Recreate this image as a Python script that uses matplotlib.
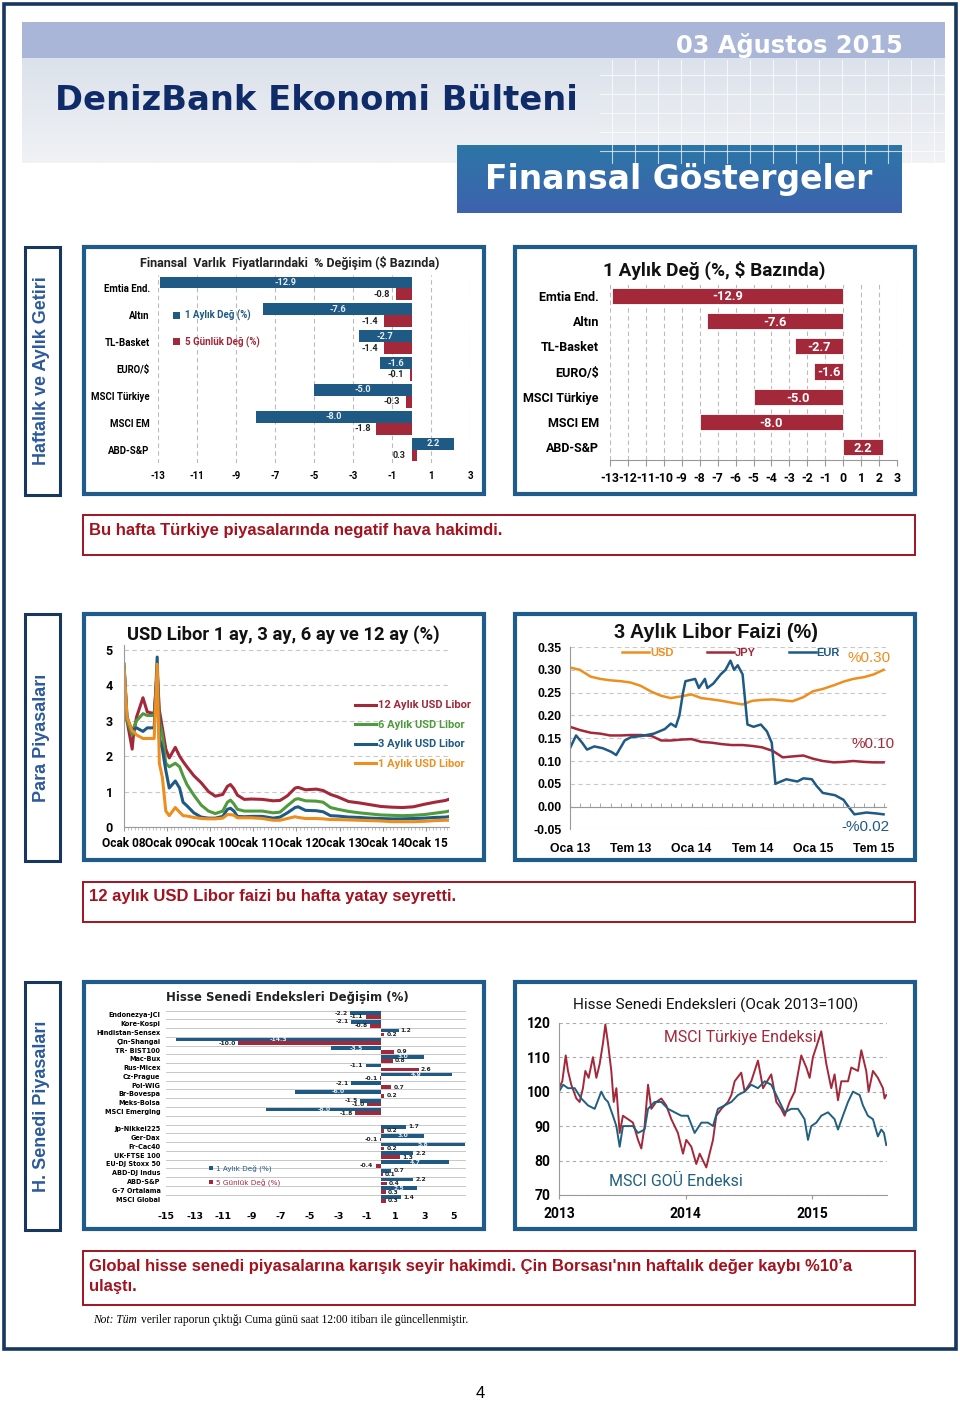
import matplotlib
matplotlib.use("Agg")
import matplotlib.pyplot as plt
import numpy as np
from matplotlib.colors import to_rgb
from matplotlib.patches import Rectangle

plt.rcParams["axes.unicode_minus"] = False

W, H = 960, 1403

# ---- Finansal varlıklar (üst grafikler) ----
assets = ["Emtia End.", "Altın", "TL-Basket", "EURO/$", "MSCI Türkiye", "MSCI EM", "ABD-S&P"]
asset_1m = [-12.9, -7.6, -2.7, -1.6, -5.0, -8.0, 2.2]
asset_5d = [-0.8, -1.4, -1.4, -0.1, -0.3, -1.8, 0.3]

# ---- USD Libor (ondalık yıl) ----
libor_t = [2008.00, 2008.07, 2008.19, 2008.22, 2008.29, 2008.44, 2008.54, 2008.70, 2008.77, 2008.82,
           2008.89, 2008.97, 2009.05, 2009.19, 2009.29, 2009.37, 2009.46, 2009.62, 2009.79, 2009.96,
           2010.12, 2010.29, 2010.40, 2010.47, 2010.55, 2010.63, 2010.79, 2010.96, 2011.21, 2011.46,
           2011.62, 2011.79, 2011.97, 2012.04, 2012.21, 2012.46, 2012.62, 2012.79, 2012.96, 2013.21,
           2013.46, 2013.71, 2013.96, 2014.21, 2014.46, 2014.71, 2014.96, 2015.21, 2015.46, 2015.58]
libor_12m = [4.5, 3.0, 2.2, 2.6, 3.1, 3.65, 3.25, 3.2, 4.4, 3.3,
             2.8, 2.2, 1.95, 2.25, 2.0, 1.85, 1.7, 1.45, 1.25, 1.0,
             0.87, 0.92, 1.15, 1.2, 1.08, 0.9, 0.78, 0.79, 0.78, 0.74,
             0.75, 0.88, 1.1, 1.12, 1.05, 1.07, 1.03, 0.92, 0.85, 0.72,
             0.68, 0.63, 0.58, 0.56, 0.55, 0.57, 0.64, 0.70, 0.75, 0.80]
libor_6m = [4.5, 3.0, 2.6, 2.8, 3.0, 3.2, 3.15, 3.15, 4.3, 3.0,
            2.6, 1.8, 1.7, 1.8, 1.7, 1.45, 1.2, 0.9, 0.62, 0.45,
            0.38, 0.45, 0.7, 0.76, 0.65, 0.5, 0.45, 0.45, 0.45, 0.40,
            0.42, 0.6, 0.78, 0.80, 0.74, 0.73, 0.70, 0.55, 0.50, 0.44,
            0.40, 0.37, 0.34, 0.33, 0.32, 0.33, 0.35, 0.39, 0.43, 0.46]
libor_3m = [4.6, 3.1, 2.7, 2.75, 2.8, 2.7, 2.8, 2.8, 4.8, 2.5,
            2.2, 1.6, 1.1, 1.3, 1.1, 0.7, 0.6, 0.4, 0.28, 0.25,
            0.25, 0.3, 0.5, 0.53, 0.45, 0.3, 0.29, 0.30, 0.30, 0.25,
            0.28, 0.40, 0.55, 0.57, 0.47, 0.46, 0.43, 0.32, 0.31, 0.28,
            0.27, 0.25, 0.24, 0.23, 0.23, 0.24, 0.25, 0.27, 0.28, 0.30]
libor_1m = [4.6, 3.1, 2.7, 2.7, 2.6, 2.5, 2.5, 2.5, 4.6, 1.8,
            1.4, 0.45, 0.32, 0.55, 0.42, 0.32, 0.31, 0.27, 0.24, 0.23,
            0.23, 0.25, 0.35, 0.35, 0.33, 0.26, 0.26, 0.26, 0.24, 0.19,
            0.19, 0.24, 0.29, 0.27, 0.24, 0.24, 0.23, 0.21, 0.21, 0.20,
            0.19, 0.18, 0.17, 0.15, 0.15, 0.15, 0.16, 0.18, 0.19, 0.19]
libor_years = ["08", "09", "10", "11", "12", "13", "14", "15"]

# ---- 3 aylık Libor ----
l3_t = [2013.00, 2013.08, 2013.17, 2013.25, 2013.33, 2013.42, 2013.50, 2013.58, 2013.67, 2013.75, 2013.83, 2013.92,
        2014.00, 2014.08, 2014.17, 2014.25, 2014.33, 2014.42, 2014.50, 2014.58, 2014.67, 2014.75, 2014.83, 2014.92,
        2015.00, 2015.08, 2015.17, 2015.25, 2015.33, 2015.42, 2015.50, 2015.58]
l3_usd = [0.305, 0.300, 0.285, 0.280, 0.277, 0.275, 0.272, 0.265, 0.252, 0.243, 0.238, 0.242,
          0.246, 0.238, 0.235, 0.232, 0.228, 0.224, 0.232, 0.234, 0.235, 0.233, 0.231, 0.240,
          0.253, 0.258, 0.266, 0.274, 0.280, 0.284, 0.290, 0.300]
l3_jpy = [0.175, 0.168, 0.162, 0.160, 0.156, 0.156, 0.157, 0.157, 0.155, 0.145, 0.145, 0.147,
          0.148, 0.142, 0.140, 0.137, 0.135, 0.135, 0.133, 0.130, 0.122, 0.108, 0.110, 0.112,
          0.105, 0.100, 0.097, 0.098, 0.100, 0.098, 0.097, 0.097]
eur_t = [2013.00, 2013.05, 2013.10, 2013.14, 2013.20, 2013.27, 2013.34, 2013.38, 2013.45, 2013.50,
         2013.59, 2013.69, 2013.78, 2013.83, 2013.87, 2013.90, 2013.93, 2013.95, 2014.03, 2014.06,
         2014.11, 2014.13, 2014.18, 2014.24, 2014.28, 2014.32, 2014.35, 2014.38, 2014.42, 2014.46,
         2014.51, 2014.57, 2014.62, 2014.66, 2014.69, 2014.78, 2014.87, 2014.92, 2014.99, 2015.03,
         2015.08, 2015.18, 2015.25, 2015.29, 2015.34, 2015.44, 2015.52, 2015.58]
l3_eur = [0.128, 0.156, 0.140, 0.125, 0.132, 0.128, 0.120, 0.113, 0.145, 0.152,
          0.155, 0.160, 0.170, 0.182, 0.175, 0.200, 0.250, 0.275, 0.280, 0.260,
          0.280, 0.260, 0.270, 0.290, 0.300, 0.320, 0.300, 0.310, 0.290, 0.180,
          0.175, 0.180, 0.165, 0.140, 0.050, 0.060, 0.055, 0.062, 0.060, 0.045,
          0.030, 0.025, 0.015, 0.000, -0.017, -0.013, -0.015, -0.017]
l3_ticks = ["Oca 13", "Tem 13", "Oca 14", "Tem 14", "Oca 15", "Tem 15"]

# ---- Hisse senedi endeksleri değişim ----
em_names = ["Endonezya-JCI", "Kore-Kospi", "Hindistan-Sensex", "Çin-Shangai", "TR- BIST100", "Mac-Bux",
            "Rus-Micex", "Cz-Prague", "Pol-WIG", "Br-Bovespa", "Meks-Bolsa", "MSCI Emerging"]
em_1m = [-2.2, -2.1, 1.2, -14.3, -3.5, 3.0, -1.1, 4.9, -2.1, -6.0, -1.5, -8.0]
em_5d = [-1.1, -0.8, 0.2, -10.0, 0.9, 0.8, 2.6, -0.1, 0.7, 0.2, -1.0, -1.8]
dm_names = ["Jp-Nikkei225", "Ger-Dax", "Fr-Cac40", "UK-FTSE 100", "EU-DJ Stoxx 50", "ABD-DJ Indus",
            "ABD-S&P", "G-7 Ortalama", "MSCI Global"]
dm_1m = [1.7, 3.0, 5.8, 2.2, 4.7, 0.7, 2.2, 2.5, 1.4]
dm_5d = [0.2, -0.1, 0.2, 1.3, -0.4, 0.1, 0.4, 0.3, 0.3]

# ---- MSCI endeksleri (Ocak 2013=100) ----
tr_t = [2013.000, 2013.026, 2013.053, 2013.071, 2013.097, 2013.137, 2013.163, 2013.189, 2013.208, 2013.234,
        2013.268, 2013.295, 2013.321, 2013.347, 2013.366, 2013.387, 2013.413, 2013.432, 2013.453, 2013.479,
        2013.505, 2013.545, 2013.584, 2013.624, 2013.650, 2013.676, 2013.703, 2013.729, 2013.768, 2013.808,
        2013.847, 2013.887, 2013.939, 2013.979, 2014.005, 2014.045, 2014.084, 2014.111, 2014.137, 2014.163,
        2014.189, 2014.216, 2014.242, 2014.282, 2014.334, 2014.361, 2014.387, 2014.439, 2014.466, 2014.518,
        2014.571, 2014.611, 2014.676, 2014.716, 2014.755, 2014.782, 2014.821, 2014.861, 2014.913, 2014.953,
        2014.979, 2015.005, 2015.032, 2015.071, 2015.111, 2015.150, 2015.176, 2015.203, 2015.229, 2015.282,
        2015.308, 2015.361, 2015.387, 2015.426, 2015.445, 2015.479, 2015.518, 2015.558, 2015.571, 2015.584]
tr_val = [101, 103, 110.5, 106, 102, 98, 97, 101, 106, 104,
          110, 104, 108, 114, 119.5, 114, 106, 97, 101, 88,
          93, 92, 91, 86, 83.5, 90, 102, 95, 97, 98,
          96, 92, 88, 82, 86, 84, 79, 82, 80, 78,
          82, 86, 93, 95, 97, 99, 103, 105.5, 100, 103,
          109, 101, 105, 97, 95, 93, 97, 100, 110.5, 107,
          104, 110, 113, 117.5, 108, 101, 105, 97.5, 103, 103,
          107, 106, 112, 106, 100, 106, 104, 101, 98, 99]
gou_t = [2013.000, 2013.032, 2013.071, 2013.124, 2013.176, 2013.229, 2013.282, 2013.334, 2013.361, 2013.387,
         2013.426, 2013.453, 2013.479, 2013.505, 2013.545, 2013.584, 2013.624, 2013.676, 2013.703, 2013.755,
         2013.808, 2013.861, 2013.913, 2013.966, 2014.018, 2014.071, 2014.124, 2014.176, 2014.216, 2014.255,
         2014.308, 2014.361, 2014.413, 2014.466, 2014.518, 2014.571, 2014.624, 2014.676, 2014.729, 2014.782,
         2014.834, 2014.887, 2014.939, 2014.966, 2014.992, 2015.032, 2015.071, 2015.124, 2015.176, 2015.203,
         2015.242, 2015.282, 2015.321, 2015.374, 2015.400, 2015.439, 2015.479, 2015.518, 2015.545, 2015.566,
         2015.584]
gou_val = [100, 102, 101, 101, 98, 96, 95, 100, 98, 97,
           93, 90, 84, 90, 90, 90, 88, 89, 95, 97,
           97, 95, 94, 93, 93, 88, 91, 91, 90, 95,
           96, 97, 99, 100, 102, 101, 103, 102, 98, 94,
           95, 95, 92, 86, 90, 91, 93, 94, 92, 89,
           93, 97, 100, 99, 96, 93, 92, 87, 89, 88,
           84.5]

# ---- renkler / fontlar ----
NAVY = "#17375E"
FRAME = "#1F5C8B"
BLUE = "#1F5A84"
RED = "#A3283A"
ORANGE = "#EE8E1F"
GREEN = "#4F9A3C"
CAPTION = "#A3121F"
CAL = ["Roboto", "DejaVu Sans"]
ARIAL = ["Liberation Sans", "DejaVu Sans"]
VERD = ["DejaVu Sans"]
SERIF = ["Liberation Serif", "DejaVu Serif"]

fig = plt.figure(figsize=(W / 100, H / 100), dpi=100)
bg = fig.add_axes([0, 0, 1, 1])
bg.axis("off")


def place(x0, y0, x1, y1):
    ax = fig.add_axes([x0 / W, 1 - y1 / H, (x1 - x0) / W, (y1 - y0) / H])
    ax.set_facecolor("none")
    return ax


def rect(x0, y0, x1, y1, edge, lw, fill="none", z=2):
    bg.add_patch(Rectangle((x0, y0), x1 - x0, y1 - y0, facecolor=fill, edgecolor=edge, linewidth=lw, zorder=z))


def gradient(x0, y0, x1, y1, top, bottom):
    c0, c1 = np.array(to_rgb(top)), np.array(to_rgb(bottom))
    f = np.linspace(0, 1, 64)[:, None, None]
    bg.imshow(c0 + (c1 - c0) * f, extent=(x0, x1, y1, y0), aspect="auto", origin="upper",
              interpolation="bilinear", zorder=1)


def bold_ticks(ax, family):
    for t in ax.get_xticklabels() + ax.get_yticklabels():
        t.set_family(family)
        t.set_fontweight("bold")


# ---- sayfa başlığı ----
gradient(22, 58, 945, 163, "#DCE2EB", "#F0F2F5")
rect(22, 22, 945, 58, "none", 0, fill="#A9B6D7", z=1)
for gx in range(612, 945, 23):
    bg.plot([gx, gx], [60, 163], color="white", lw=0.8, alpha=0.7, zorder=1.5)
for gy in range(75, 163, 19):
    bg.plot([600, 945], [gy, gy], color="white", lw=0.8, alpha=0.7, zorder=1.5)
gradient(457, 145, 902, 213, "#2C76A6", "#3E63AF")
bg.text(903, 46, "03 Ağustos 2015", color="white", fontsize=17.4, fontweight="bold", family=VERD,
        ha="right", va="center", zorder=3)
bg.text(55, 101, "DenizBank Ekonomi Bülteni", color="#0F2C69", fontsize=24.3, fontweight="bold",
        family=VERD, ha="left", va="center", zorder=3)
bg.text(679, 180, "Finansal Göstergeler", color="white", fontsize=23.8, fontweight="bold",
        family=VERD, ha="center", va="center", zorder=3)

rect(4, 4, 956, 1349, NAVY, 2.6, z=5)

# ---- yan etiketler ----
side = [("Haftalık ve Aylık Getiri", 247, 495), ("Para Piyasaları", 614, 861),
        ("H. Senedi Piyasaları", 982, 1230)]
for label, y0, y1 in side:
    rect(25, y0, 60, y1, NAVY, 2.2)
    bg.text(42, (y0 + y1) / 2, label, rotation=90, color="#2D5A9B", fontsize=13,
            fontweight="bold", family=ARIAL, ha="center", va="center")

# ---- grafik çerçeveleri ----
for x0, x1 in [(84, 484), (515, 915)]:
    for y0, y1 in [(247, 494), (614, 860), (982, 1229)]:
        rect(x0, y0, x1, y1, FRAME, 3, fill="white")

# ---- açıklama kutuları ----
rect(83, 515, 915, 555, CAPTION, 1.4)
bg.text(89, 530, "Bu hafta Türkiye piyasalarında negatif hava hakimdi.", color=CAPTION,
        fontsize=12, fontweight="bold", family=ARIAL, va="center")
rect(83, 882, 915, 922, CAPTION, 1.4)
bg.text(89, 897, "12 aylık USD Libor faizi bu hafta yatay seyretti.", color=CAPTION,
        fontsize=12, fontweight="bold", family=ARIAL, va="center")
rect(83, 1251, 915, 1305, CAPTION, 1.4)
bg.text(89, 1266, "Global hisse senedi piyasalarına karışık seyir hakimdi. Çin Borsası'nın haftalık değer kaybı %10’a",
        color=CAPTION, fontsize=12, fontweight="bold", family=ARIAL, va="center")
bg.text(89, 1286, "ulaştı.", color=CAPTION, fontsize=12, fontweight="bold", family=ARIAL, va="center")
bg.text(93, 1320, "Not: Tüm", fontsize=8.3, style="italic", family=SERIF, va="center")
bg.text(141, 1320, "veriler raporun çıktığı Cuma günü saat 12:00 itibarı ile güncellenmiştir.",
        fontsize=8.3, family=SERIF, va="center")
bg.text(480, 1393, "4", fontsize=12, family=ARIAL, ha="center", va="center")

bg.set_xlim(0, W)
bg.set_ylim(H, 0)

# ---- 1: Finansal varlık fiyatları ----
bg.text(290, 263, "Finansal  Varlık  Fiyatlarındaki  % Değişim ($ Bazında)", fontsize=9, fontweight="bold",
        family=CAL, ha="center", va="center", color="#222222")
ax1 = place(158, 275, 470, 463)
pos = np.arange(len(assets))
ax1.barh(pos - 0.22, asset_1m, height=0.44, color=BLUE, label="1 Aylık Değ (%)")
ax1.barh(pos + 0.22, asset_5d, height=0.44, color=RED, label="5 Günlük Değ (%)")
for p, v in zip(pos, asset_1m):
    ax1.text(v / 2, p - 0.22, f"{v:.1f}", color="#E8EEF4", fontsize=6.6, fontweight="bold",
             family=CAL, ha="center", va="center")
for p, v in zip(pos, asset_5d):
    ax1.text(min(v, 0) - 0.3, p + 0.22, f"{v:.1f}", color="#222222", fontsize=6.6, fontweight="bold",
             family=CAL, ha="right", va="center")
ax1.set_xlim(-13, 3)
ax1.set_ylim(len(assets) - 0.5, -0.5)
ax1.set_xticks(range(-13, 4, 2))
ax1.set_yticks(pos, assets)
ax1.grid(axis="x", ls=(0, (4, 3)), color="#BBBBBB", lw=0.8)
ax1.set_axisbelow(True)
ax1.tick_params(length=0, labelsize=6.9, pad=6)
bold_ticks(ax1, CAL)
for s in ax1.spines.values():
    s.set_visible(False)
leg = ax1.legend(loc="upper left", bbox_to_anchor=(0.02, 0.86), frameon=False, handlelength=0.7,
                 handleheight=0.7, labelspacing=1.55, handletextpad=0.5,
                 prop={"family": CAL, "size": 7, "weight": "bold"})
for t, c in zip(leg.get_texts(), [BLUE, RED]):
    t.set_color(c)

# ---- 2: 1 Aylık Değ ----
bg.text(714, 270, "1 Aylık Değ (%, $ Bazında)", fontsize=13.7, fontweight="bold", family=CAL,
        ha="center", va="center", color="#111111")
ax2 = place(610, 283, 897, 460)
ax2.barh(pos, asset_1m, height=0.64, color=RED, edgecolor="white", linewidth=0.6)
for p, v in zip(pos, asset_1m):
    ax2.text(v / 2, p + 0.05, f"{v:.1f}", color="white", fontsize=9.3, fontweight="bold",
             family=CAL, ha="center", va="center")
ax2.set_xlim(-13, 3)
ax2.set_ylim(len(assets) - 0.5, -0.5)
ax2.set_xticks(range(-13, 4))
ax2.set_yticks(pos, assets)
ax2.grid(axis="x", ls=(0, (4, 3)), color="#BBBBBB", lw=0.8)
ax2.set_axisbelow(True)
ax2.tick_params(axis="y", length=0, labelsize=9, pad=8)
ax2.tick_params(axis="x", length=4, color="#999999", labelsize=8.8, pad=5)
bold_ticks(ax2, CAL)
for k in ["left", "right", "top"]:
    ax2.spines[k].set_visible(False)
ax2.spines["bottom"].set_color("#999999")

# ---- 3: USD Libor ----
bg.text(283, 635, "USD Libor 1 ay, 3 ay, 6 ay ve 12 ay (%)", fontsize=13.2, fontweight="bold", family=CAL,
        ha="center", va="center", color="#111111")
ax3 = place(124, 645, 449, 827)
ax3.plot(libor_t, libor_12m, color=RED, lw=2.2, label="12 Aylık USD Libor")
ax3.plot(libor_t, libor_6m, color=GREEN, lw=2.2, label="6 Aylık USD Libor")
ax3.plot(libor_t, libor_3m, color=BLUE, lw=2.2, label="3 Aylık USD Libor")
ax3.plot(libor_t, libor_1m, color=ORANGE, lw=2.2, label="1 Aylık USD Libor")
ax3.set_xlim(2008, 2015.54)
ax3.set_ylim(0, 5.14)
ax3.set_yticks(range(0, 6))
ax3.set_xticks([2008 + i for i in range(len(libor_years))], ["Ocak " + y for y in libor_years])
ax3.set_xticks(np.arange(2008, 2015.55, 1 / 12), minor=True)
ax3.grid(axis="y", ls=(0, (4, 3)), color="#C8C8C8", lw=0.8)
ax3.tick_params(axis="y", length=0, labelsize=9, pad=8)
ax3.tick_params(axis="x", which="major", length=3, color="#999999", labelsize=8.6, pad=4)
ax3.tick_params(axis="x", which="minor", length=2, color="#BBBBBB")
bold_ticks(ax3, CAL)
for k in ["right", "top"]:
    ax3.spines[k].set_visible(False)
ax3.spines["left"].set_color("#999999")
ax3.spines["bottom"].set_color("#999999")
leg = ax3.legend(loc="upper left", bbox_to_anchor=(0.68, 0.75), frameon=False, handlelength=1.9,
                 labelspacing=0.85, handletextpad=0.15, prop={"family": CAL, "size": 8, "weight": "bold"})
for t, c in zip(leg.get_texts(), [RED, GREEN, BLUE, ORANGE]):
    t.set_color(c)

# ---- 4: 3 Aylık Libor Faizi ----
bg.text(716, 633, "3 Aylık Libor Faizi (%)", fontsize=14.3, fontweight="bold", family=ARIAL,
        ha="center", va="center", color="#111111")
ax4 = place(570, 647, 886, 829.4)
ax4.plot(l3_t, l3_usd, color=ORANGE, lw=1.8, label="USD")
ax4.plot(l3_t, l3_jpy, color=RED, lw=1.8, label="JPY")
ax4.plot(eur_t, l3_eur, color=BLUE, lw=1.8, label="EUR")
ax4.set_xlim(2013.0, 2015.6)
ax4.set_ylim(-0.05, 0.35)
yt = np.round(np.arange(-0.05, 0.351, 0.05), 2)
ax4.set_yticks(yt, [f"{v:.2f}" for v in yt])
ax4.set_xticks([2013.0, 2013.5, 2014.0, 2014.5, 2015.0, 2015.5], l3_ticks)
ax4.set_xticks(np.arange(2013.0, 2015.6, 1 / 12), minor=True)
ax4.grid(axis="y", ls=(0, (4, 3)), color="#C8C8C8", lw=0.8)
ax4.spines["bottom"].set_position(("data", 0))
ax4.spines["bottom"].set_color("#999999")
ax4.spines["left"].set_color("#999999")
for k in ["right", "top"]:
    ax4.spines[k].set_visible(False)
ax4.tick_params(axis="x", which="both", direction="in", length=3, color="#999999", labelsize=8.8, pad=26)
ax4.tick_params(axis="y", length=0, labelsize=8.8, pad=6)
bold_ticks(ax4, ARIAL)
leg = ax4.legend(loc="center", bbox_to_anchor=(0.51, 0.965), ncol=3, frameon=False, handlelength=2.4,
                 columnspacing=3.0, handletextpad=0.1, prop={"family": ARIAL, "size": 8, "weight": "bold"})
for t, c in zip(leg.get_texts(), [ORANGE, RED, BLUE]):
    t.set_color(c)
ax4.text(2015.46, l3_usd[-1] + 0.025, f"%{l3_usd[-1]:.2f}", color=ORANGE, fontsize=11, family=ARIAL,
         ha="center", va="center")
ax4.text(2015.49, l3_jpy[-1] + 0.041, f"%{l3_jpy[-1]:.2f}", color=RED, fontsize=11, family=ARIAL,
         ha="center", va="center")
ax4.text(2015.43, l3_eur[-1] - 0.027, f"-%{abs(l3_eur[-1]):.2f}", color=BLUE, fontsize=11, family=ARIAL,
         ha="center", va="center")

# ---- 5: Hisse senedi endeksleri değişim ----
bg.text(287, 997, "Hisse Senedi Endeksleri Değişim (%)", fontsize=8.5, fontweight="bold", family=VERD,
        ha="center", va="center", color="#222222")
ax5 = place(166, 1010.6, 466, 1203.4)
slots = list(range(len(em_names))) + [len(em_names) + 1 + i for i in range(len(dm_names))]
names = em_names + dm_names
v1 = em_1m + dm_1m
v5 = em_5d + dm_5d
sl = np.array(slots)
ax5.barh(sl - 0.22, v1, height=0.42, color=BLUE, label="1 Aylık Değ (%)", zorder=3)
ax5.barh(sl + 0.22, v5, height=0.42, color=RED, label="5 Günlük Değ (%)", zorder=3)
for s, a, b in zip(slots, v1, v5):
    for y, v, c in [(s - 0.22, a, "#E8EEF4"), (s + 0.22, b, None)]:
        if c and abs(v) >= 2.5:
            ax5.text(v / 2, y, f"{v:.1f}", color=c, fontsize=4.3, fontweight="bold", family=VERD,
                     ha="center", va="center", zorder=4)
        elif v < 0:
            ax5.text(v - 0.15, y, f"{v:.1f}", color="#222222", fontsize=4.3, fontweight="bold", family=VERD,
                     ha="right", va="center", zorder=4)
        else:
            ax5.text(v + 0.15, y, f"{v:.1f}", color="#222222", fontsize=4.3, fontweight="bold", family=VERD,
                     ha="left", va="center", zorder=4)
ax5.set_xlim(-15, 5.9)
ax5.set_ylim(21.5, -0.5)
ax5.set_xticks(range(-15, 6, 2))
ax5.set_yticks(slots, names)
for k in range(-1, 22):
    ax5.axhline(k + 0.5, color="#C8C8C8", lw=0.7, zorder=1)
ax5.tick_params(axis="y", length=0, labelsize=4.7, pad=4)
ax5.tick_params(axis="x", length=0, labelsize=6.8, pad=6)
bold_ticks(ax5, VERD)
for s in ax5.spines.values():
    s.set_visible(False)
leg = ax5.legend(loc="upper left", bbox_to_anchor=(0.12, 0.235), frameon=False, handlelength=0.6,
                 handleheight=0.6, labelspacing=0.9, handletextpad=0.4, prop={"family": VERD, "size": 5.2})
for t, c in zip(leg.get_texts(), [BLUE, RED]):
    t.set_color(c)

# ---- 6: Hisse senedi endeksleri (Ocak 2013=100) ----
bg.text(716, 1005, "Hisse Senedi Endeksleri (Ocak 2013=100)", fontsize=11.1, family=CAL,
        ha="center", va="center", color="#111111")
ax6 = place(559, 1022.7, 887, 1195)
ax6.plot(tr_t, tr_val, color=RED, lw=1.4)
ax6.plot(gou_t, gou_val, color="#21607F", lw=1.4)
ax6.set_xlim(2013.0, 2015.59)
ax6.set_ylim(70, 120)
ax6.set_yticks(range(70, 121, 10))
ax6.set_xticks([2013, 2014, 2015])
ax6.grid(axis="y", ls=(0, (3, 3)), color="#AAAAAA", lw=0.8)
for k in ["right", "top"]:
    ax6.spines[k].set_visible(False)
ax6.spines["left"].set_color("#999999")
ax6.spines["bottom"].set_color("#999999")
ax6.tick_params(axis="x", length=3, color="#999999", labelsize=10, pad=6)
ax6.tick_params(axis="y", length=0, labelsize=10, pad=6)
bold_ticks(ax6, CAL)
ax6.text(2014.43, 115.8, "MSCI Türkiye Endeksi", color=RED, fontsize=11.4, family=CAL, ha="center", va="center")
ax6.text(2013.92, 74, "MSCI GOÜ Endeksi", color="#21607F", fontsize=11.5, family=CAL, ha="center", va="center")

fig.savefig("out.png", dpi=100)
